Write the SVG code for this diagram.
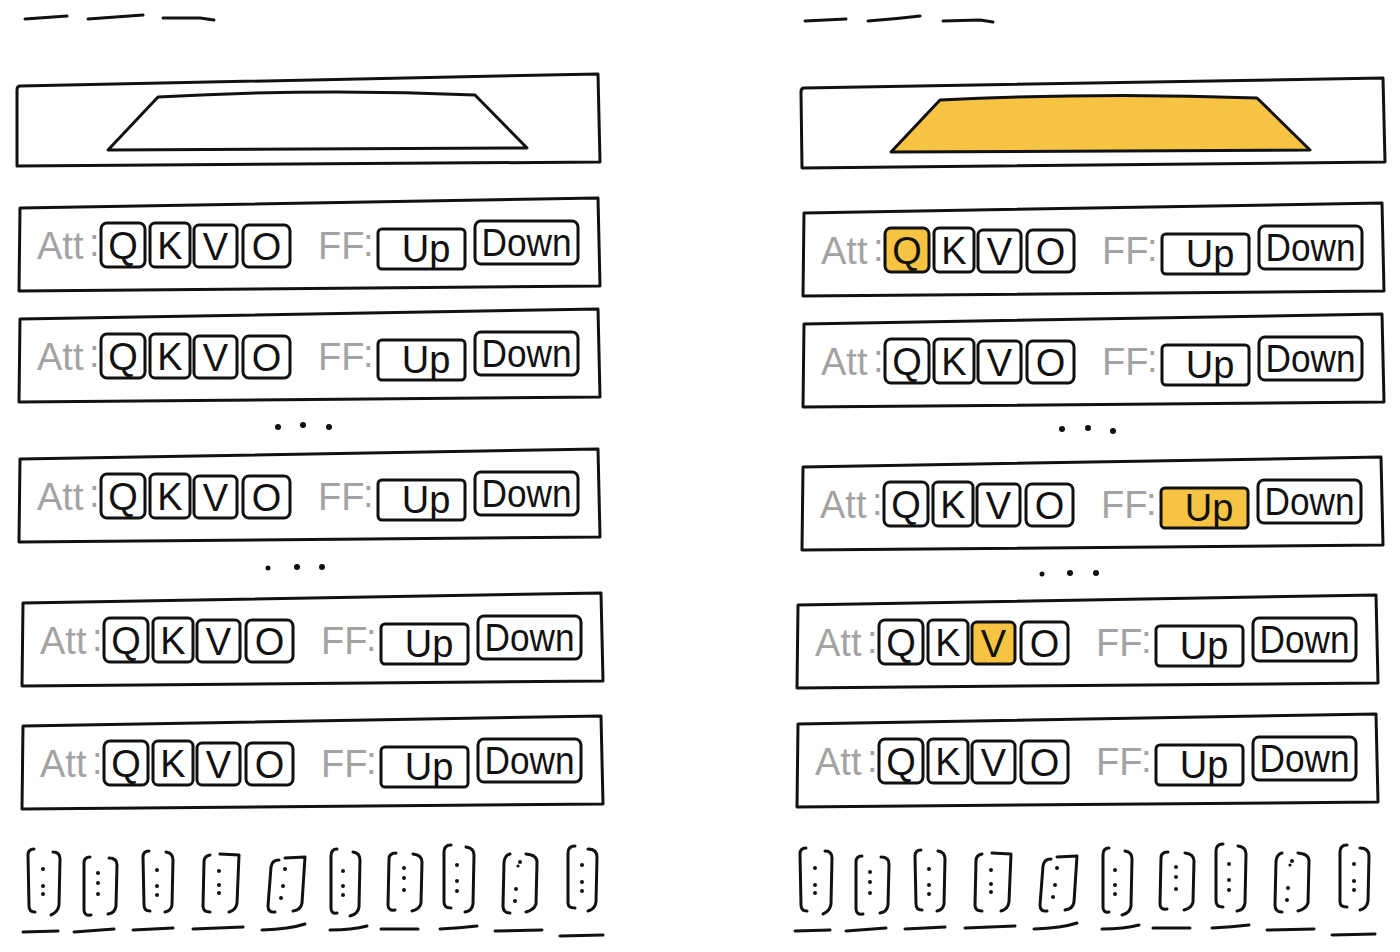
<svg xmlns="http://www.w3.org/2000/svg" xmlns:xlink="http://www.w3.org/1999/xlink" width="1400" height="952" viewBox="0 0 1400 952">
<style>
.ink{fill:none;stroke:#111;stroke-width:3;stroke-linecap:round;stroke-linejoin:round}
.hl{fill:#F6C343;stroke:none}
.lab{font-family:"Liberation Sans",sans-serif;font-size:38px;fill:#a3a3a3}
.let{font-family:"Liberation Sans",sans-serif;font-size:38px;fill:#111;text-anchor:middle}
.dot{fill:#111}
</style>
<defs>
<g id="rowT">
<path class="ink" d="M3,10 L581,0 L583,88 L2,93 Z"/>
<text class="lab" x="20" y="61">Att</text>
<text class="lab" x="72" y="58">:</text>
<rect class="ink" x="84" y="25" width="44" height="44" rx="6"/>
<text class="let" x="106" y="61">Q</text>
<rect class="ink" x="133" y="25" width="40" height="44" rx="5"/>
<text class="let" x="153" y="61">K</text>
<rect class="ink" x="177" y="27" width="43" height="42" rx="5"/>
<text class="let" x="198.5" y="62">V</text>
<rect class="ink" x="226" y="27" width="47" height="42" rx="6"/>
<text class="let" x="249.5" y="62">O</text>
<text class="lab" x="301" y="61">FF</text>
<text class="lab" x="346" y="58">:</text>
<rect class="ink" x="361" y="31" width="87" height="40" rx="4"/>
<text class="let" x="409" y="64" font-size="40">Up</text>
<rect class="ink" x="458" y="23" width="103" height="43" rx="6"/>
<text class="let" x="509.5" y="58" font-size="36" textLength="90" lengthAdjust="spacingAndGlyphs">Down</text>
</g>
<g id="vecsT">
<g id="v1"><path class="ink" d="M34,849 Q28,849 28,855 L29,906 Q29,912 35,912 M53,852 Q60,852 60,859 L59,905 Q58,912 51,915 M23,932 L58,931"/><circle class="dot" cx="43" cy="869" r="2"/><circle class="dot" cx="43" cy="886" r="2"/><circle class="dot" cx="43" cy="894" r="2"/></g>
<g id="v2"><path class="ink" d="M90,857 Q84,857 84,863 L84,910 Q84,916 91,915 M109,858 Q117,858 117,865 L116,906 Q115,913 108,914 M74,932 L114,929"/><circle class="dot" cx="98" cy="873" r="2"/><circle class="dot" cx="98" cy="883" r="2"/><circle class="dot" cx="98" cy="894" r="2"/></g>
<g id="v3"><path class="ink" d="M149,851 Q143,851 143,857 L144,905 Q144,911 150,911 M166,852 Q173,853 173,860 L172,905 Q171,911 165,912 M133,930 L173,928"/><circle class="dot" cx="157" cy="870" r="2"/><circle class="dot" cx="157" cy="886" r="2"/><circle class="dot" cx="157" cy="895" r="2"/></g>
<g id="v4"><path class="ink" d="M210,855 Q204,856 204,862 L203,906 Q203,912 210,912 M220,854 L239,855 L237,903 Q236,910 229,912 M193,929 L243,927"/><circle class="dot" cx="219" cy="871" r="2"/><circle class="dot" cx="219" cy="885" r="2"/><circle class="dot" cx="219" cy="893" r="2"/></g>
<g id="v5"><path class="ink" d="M279,860 Q272,860 271,867 L268,906 Q268,913 275,912 M285,858 L305,857 L302,903 Q301,910 293,911 M262,930 Q290,929 305,924"/><circle class="dot" cx="285" cy="869" r="2"/><circle class="dot" cx="283" cy="886" r="2"/><circle class="dot" cx="281" cy="898" r="2"/></g>
<g id="v6"><path class="ink" d="M337,849 Q331,849 331,856 L331,908 Q331,914 337,913 M353,852 Q360,853 360,860 L359,907 Q358,914 350,916 M330,930 Q352,930 367,926"/><circle class="dot" cx="343" cy="871" r="2"/><circle class="dot" cx="343" cy="886" r="2"/><circle class="dot" cx="343" cy="895" r="2"/></g>
<g id="v7"><path class="ink" d="M396,853 Q389,853 389,859 L388,905 Q388,911 395,910 M413,854 Q422,855 422,862 L421,903 Q420,909 412,911 M381,929 L418,929"/><circle class="dot" cx="404" cy="868" r="2"/><circle class="dot" cx="404" cy="878" r="2"/><circle class="dot" cx="404" cy="890" r="2"/></g>
<g id="v8"><path class="ink" d="M451,845 Q444,845 444,852 L444,902 Q444,908 451,908 M466,847 Q474,848 474,855 L473,904 Q472,911 465,912 M440,929 Q460,928 477,926"/><circle class="dot" cx="457" cy="865" r="2"/><circle class="dot" cx="457" cy="881" r="2"/><circle class="dot" cx="457" cy="891" r="2"/></g>
<g id="v9"><path class="ink" d="M510,854 Q505,855 504,862 L503,906 Q503,913 510,913 M526,854 Q537,855 537,862 L536,904 Q534,910 526,912 M495,931 L542,930"/><circle class="dot" cx="520" cy="862" r="2"/><circle class="dot" cx="518" cy="866" r="1.6"/><circle class="dot" cx="516" cy="889" r="2"/><circle class="dot" cx="515" cy="901" r="2"/></g>
<g id="v10"><path class="ink" d="M575,846 Q568,846 568,853 L568,903 Q568,908 575,908 M588,849 Q597,849 597,857 L596,902 Q595,909 588,911 M560,936 L603,935"/><circle class="dot" cx="582" cy="865" r="2"/><circle class="dot" cx="582" cy="882" r="2"/><circle class="dot" cx="582" cy="891" r="2"/></g>
</g>
</defs>

<g id="L-title"><path class="ink" d="M25,19 L67,16 M88,19 Q115,17 143,15 M163,18 L200,18 L214,20"/></g>
<g id="R-title"><path class="ink" d="M805,21 L846,19 M868,21 Q895,19 920,16 M943,21 L980,20 L993,22"/></g>

<g id="L-top">
<path class="ink" d="M20,86 Q17,86 17,90 L17,166 L600,162 L598,74 Z"/>
<path class="ink" d="M108,150 L158,97 Q316,88 475,95 L527,148 Z"/>
</g>
<g id="R-top">
<path class="ink" d="M804,88 Q801,88 801,92 L802,168 L1385,162 L1383,78 Z"/>
<path class="ink" d="M891,152 L940,100 Q1100,92 1257,98 L1310,150 Z" style="fill:#F6C343"/>
</g>

<g id="L-row1" transform="translate(17,198)"><use href="#rowT" xlink:href="#rowT"/></g>
<g id="L-row2" transform="translate(17,309)"><use href="#rowT" xlink:href="#rowT"/></g>
<g id="L-row3" transform="translate(17,449)"><use href="#rowT" xlink:href="#rowT"/></g>
<g id="L-row4" transform="translate(20,593)"><use href="#rowT" xlink:href="#rowT"/></g>
<g id="L-row5" transform="translate(20,716)"><use href="#rowT" xlink:href="#rowT"/></g>

<g id="R-row1" transform="translate(801,203)"><rect class="hl" x="84" y="25" width="44" height="44" rx="6"/><use href="#rowT" xlink:href="#rowT"/></g>
<g id="R-row2" transform="translate(801,314)"><use href="#rowT" xlink:href="#rowT"/></g>
<g id="R-row3" transform="translate(800,457)"><rect class="hl" x="361" y="31" width="87" height="40" rx="4"/><use href="#rowT" xlink:href="#rowT"/></g>
<g id="R-row4" transform="translate(795,595)"><rect class="hl" x="177" y="27" width="43" height="42" rx="5"/><use href="#rowT" xlink:href="#rowT"/></g>
<g id="R-row5" transform="translate(795,714)"><use href="#rowT" xlink:href="#rowT"/></g>

<g id="L-ellipsis">
<circle class="dot" cx="278" cy="427" r="3"/><circle class="dot" cx="303" cy="425" r="3"/><circle class="dot" cx="329" cy="427" r="3"/>
<circle class="dot" cx="268" cy="568" r="2.5"/><circle class="dot" cx="297" cy="567" r="3"/><circle class="dot" cx="322" cy="567" r="3"/>
</g>
<g id="R-ellipsis">
<circle class="dot" cx="1062" cy="429" r="3"/><circle class="dot" cx="1088" cy="428" r="3"/><circle class="dot" cx="1113" cy="431" r="3"/>
<circle class="dot" cx="1042" cy="574" r="2.5"/><circle class="dot" cx="1070" cy="573" r="3"/><circle class="dot" cx="1096" cy="573" r="3"/>
</g>

<g id="L-vectors"><use href="#vecsT" xlink:href="#vecsT"/></g>
<g id="R-vectors" transform="translate(772,-1)"><use href="#vecsT" xlink:href="#vecsT"/></g>
</svg>
